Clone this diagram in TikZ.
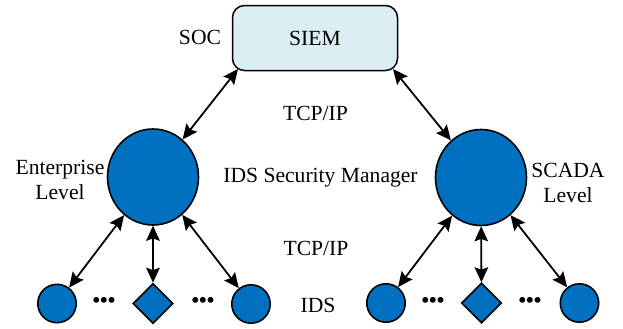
\documentclass[tikz,border=0pt]{standalone}
\usepackage{fontspec}
\setmainfont{Liberation Serif}
\newfontfamily\tnr{Liberation Serif}
\usetikzlibrary{shapes.geometric,arrows.meta}
\definecolor{boxfill}{HTML}{DAEEF3}
\definecolor{nodeblue}{HTML}{0070C0}
\begin{document}
\begin{tikzpicture}[x=0.5pt,y=-0.5pt,
  font=\tnr\fontsize{10.8}{12.5}\selectfont,
  big/.style={ellipse,draw=black,line width=0.8pt,fill=nodeblue,minimum width=45.5pt,minimum height=48pt,inner sep=0pt},
  small/.style={circle,draw=black,line width=0.8pt,fill=nodeblue,minimum size=19.2pt,inner sep=0pt},
  dia/.style={diamond,draw=black,line width=0.8pt,fill=nodeblue,minimum width=20pt,minimum height=20pt,inner sep=0pt},
  link/.style={{Stealth[length=7.5pt,width=6.8pt,inset=1.2pt]}-{Stealth[length=7.5pt,width=6.8pt,inset=1.2pt]},line width=0.9pt},
  lab/.style={inner sep=0pt,align=center},
  dots/.style={inner sep=0pt,font=\tnr\fontsize{10.8}{12.5}\selectfont\bfseries}]
\useasboundingbox (0,0) rectangle (623,328);
% top box
\node[draw=black,rounded corners=6pt,fill=boxfill,line width=0.75pt,minimum width=82.5pt,minimum height=32.5pt,inner sep=0pt] (siem) at (315,38) {SIEM};
\coordinate (siemL) at (238,69);
\coordinate (siemR) at (393,69);
% big nodes
\node[big] (bigL) at (153,177) {};
\node[big] (bigR) at (481,177.5) {};
% small nodes
\node[small] (L1) at (57,303.5) {};
\node[dia] (Ld) at (153,303.5) {};
\node[small] (L2) at (251,304) {};
\node[small] (R1) at (386,303) {};
\node[dia] (Rd) at (481.5,303) {};
\node[small] (R2) at (579.5,303) {};
% dots
\node[dots] (d1) at (104,302) {•••};
\node[dots] (d2) at (203,302) {•••};
\node[dots] (d3) at (433,302) {•••};
\node[dots] (d4) at (530,302) {•••};
% labels
\node[lab] (soc) at (200,37) {SOC};
\node[lab] (tcp1) at (315.5,113) {TCP/IP};
\node[lab] (ism) at (320.5,178) {IDS Security Manager};
\node[lab] (ent) at (60,180) {Enterprise\\Level};
\node[lab] (sca) at (568,183) {SCADA\\Level};
\node[lab] (tcp2) at (316,248) {TCP/IP};
\node[lab] (ids) at (318,305) {IDS};
% connectors
\draw[link] (siemL) -- (bigL);
\draw[link] (siemR) -- (bigR);
\draw[link] (bigL) -- (L1);
\draw[link] (bigL) -- (Ld);
\draw[link] (bigL) -- (L2);
\draw[link] (bigR) -- (R1);
\draw[link] (bigR) -- (Rd);
\draw[link] (bigR) -- (R2);
\end{tikzpicture}
\end{document}
